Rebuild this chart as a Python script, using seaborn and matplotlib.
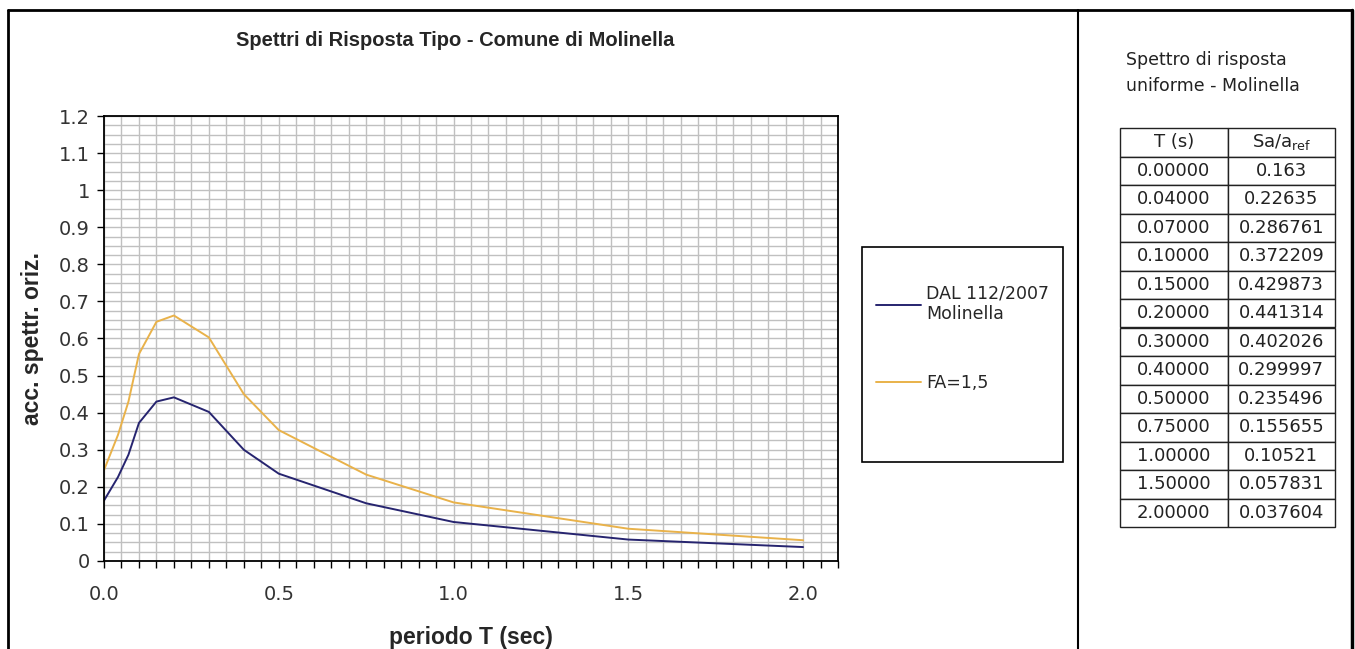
import matplotlib
matplotlib.use("Agg")
import matplotlib.pyplot as plt
from matplotlib.lines import Line2D
from matplotlib.patches import Rectangle
from matplotlib.ticker import MultipleLocator, FuncFormatter
import seaborn as sns
import pandas as pd

# ---- data ----
periods = [0.0, 0.04, 0.07, 0.10, 0.15, 0.20, 0.30, 0.40, 0.50, 0.75, 1.00, 1.50, 2.00]
sa_dal = [0.163, 0.22635, 0.286761, 0.372209, 0.429873, 0.441314, 0.402026,
          0.299997, 0.235496, 0.155655, 0.10521, 0.057831, 0.037604]
sa_fa = [0.245, 0.340, 0.430, 0.558, 0.645, 0.662, 0.603,
         0.450, 0.353, 0.233, 0.158, 0.087, 0.056]
series_labels = ["DAL 112/2007\nMolinella", "FA=1,5"]
title = "Spettri di Risposta Tipo - Comune di Molinella"
xlabel = "periodo T (sec)"
ylabel = "acc. spettr. oriz."
table_title = "Spettro di risposta\nuniforme - Molinella"
table_header = ["T (s)", "Sa/a$_{\\mathregular{ref}}$"]
table_T = ["0.00000", "0.04000", "0.07000", "0.10000", "0.15000", "0.20000", "0.30000",
           "0.40000", "0.50000", "0.75000", "1.00000", "1.50000", "2.00000"]
table_sa = ["0.163", "0.22635", "0.286761", "0.372209", "0.429873", "0.441314", "0.402026",
            "0.299997", "0.235496", "0.155655", "0.10521", "0.057831", "0.037604"]

sns.set_theme(style="white")
plt.rcParams["font.family"] = ["DejaVu Sans"]
BOLD = ["Liberation Sans", "DejaVu Sans"]

W, H = 1355, 649
fig = plt.figure(figsize=(W / 100, H / 100), dpi=100)
fig.patch.set_facecolor("white")

def fx(px):
    return px / W

def fy(py):
    return 1 - py / H

ax = fig.add_axes([fx(104), fy(561), fx(838) - fx(104), fy(116) - fy(561)])

df = pd.DataFrame({"T": periods, "dal": sa_dal, "fa": sa_fa})
c_blue = "#26246f"
c_orange = "#e9b24a"
sns.lineplot(data=df, x="T", y="dal", ax=ax, color=c_blue, lw=1.4, label=series_labels[0])
sns.lineplot(data=df, x="T", y="fa", ax=ax, color=c_orange, lw=1.4, label=series_labels[1])

ax.set_xlim(0, 2.1)
ax.set_ylim(0, 1.2)
ax.xaxis.set_major_locator(MultipleLocator(0.5))
ax.xaxis.set_minor_locator(MultipleLocator(0.05))
ax.yaxis.set_major_locator(MultipleLocator(0.1))
ax.yaxis.set_minor_locator(MultipleLocator(0.025))
ax.xaxis.set_major_formatter(FuncFormatter(lambda v, p: f"{v:.1f}"))
ax.yaxis.set_major_formatter(FuncFormatter(lambda v, p: f"{v:.1f}".rstrip("0").rstrip(".") if abs(v) > 1e-9 else "0"))
ax.grid(True, which="both", color="#c0c0c0", lw=1.0)
ax.set_axisbelow(True)
for s in ax.spines.values():
    s.set_color("black")
    s.set_linewidth(1.3)
ax.tick_params(axis="both", which="both", direction="out", length=5, width=1, color="black",
               labelsize=14, labelcolor="#333333", left=True, bottom=True)
ax.tick_params(axis="y", which="minor", length=0)
ax.tick_params(axis="y", which="major", pad=5)
ax.tick_params(axis="x", which="major", pad=12)
ax.set_xlabel(xlabel, fontsize=16.5, fontweight="bold", family=BOLD, labelpad=16)
ax.set_ylabel(ylabel, fontsize=16.5, fontweight="bold", family=BOLD, labelpad=11)
ax.get_legend().remove()

fig.text(fx(455), fy(41), title, ha="center", va="center", fontsize=14.5,
         fontweight="bold", family=BOLD)

# legend
fig.add_artist(Rectangle((fx(862), fy(462)), fx(1063) - fx(862), fy(247) - fy(462),
                         transform=fig.transFigure, fill=False, ec="black", lw=1.2))
handles, labels = ax.get_legend_handles_labels()
fig.legend(handles, labels, loc="upper left", bbox_to_anchor=(fx(867), fy(276)),
           frameon=False, fontsize=12.5, handlelength=2.6, handletextpad=0.3,
           labelspacing=2.9, borderpad=0)

# outer frame
for (x0, y0, x1, y1, lw) in [(8, 10, 1352, 10, 2.0), (8, 10, 8, 649, 2.0),
                             (1352, 10, 1352, 649, 2.5), (1078, 10, 1078, 649, 1.5)]:
    fig.add_artist(Line2D([fx(x0), fx(x1)], [fy(y0), fy(y1)], transform=fig.transFigure,
                          color="black", lw=lw))

# table
fig.text(fx(1126), fy(73), table_title, ha="left", va="center", fontsize=12.5,
         color="#222222", linespacing=1.6)
tax = fig.add_axes([fx(1120), fy(527), fx(1335) - fx(1120), fy(128) - fy(527)])
tax.axis("off")
cells = [[t, s] for t, s in zip(table_T, table_sa)]
tbl = tax.table(cellText=cells, colLabels=table_header, cellLoc="center",
                bbox=[0, 0, 1, 1])
tbl.auto_set_font_size(False)
tbl.set_fontsize(13)
for (r, c), cell in tbl.get_celld().items():
    cell.set_edgecolor("#222222")
    cell.set_linewidth(1.0)
    cell.get_text().set_color("#222222")

fig.savefig("out.png", dpi=100, facecolor="white")
